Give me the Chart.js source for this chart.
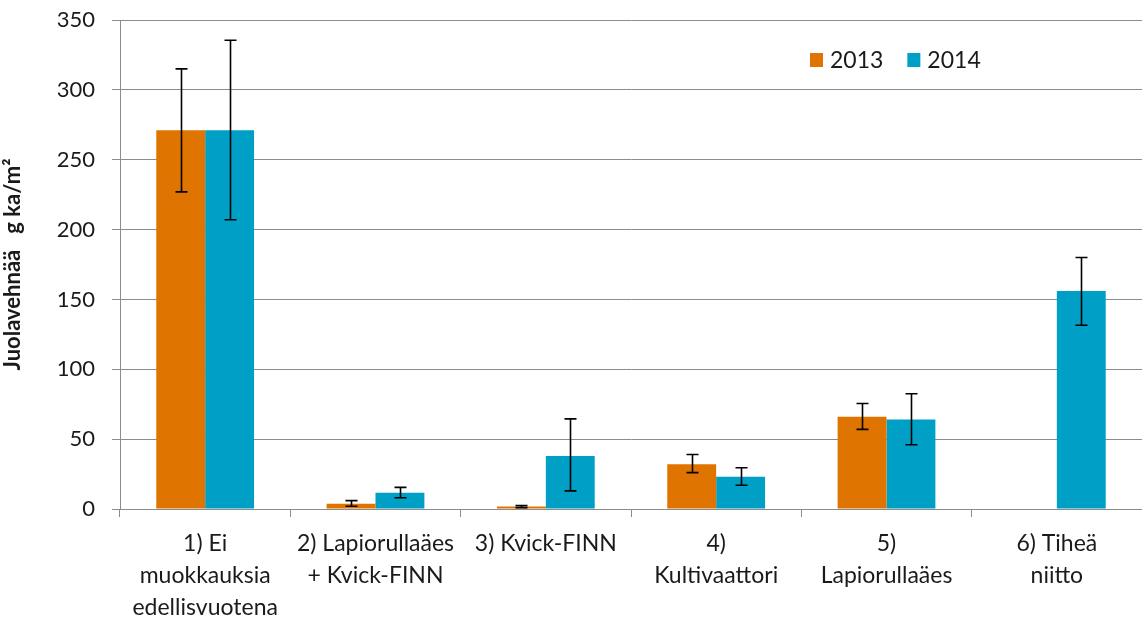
<!DOCTYPE html>
<html>
<head>
<meta charset="utf-8">
<script src="https://cdn.jsdelivr.net/npm/chart.js@4/dist/chart.umd.min.js"></script>
<style>
  html, body { margin: 0; padding: 0; background: #fff; }
  #wrap { width: 1142px; height: 620px; }
</style>
</head>
<body>
<div id="wrap"><canvas id="juola_chart"></canvas></div>
<script>
const categories = [
  ["1) Ei", "muokkauksia", "edellisvuotena"],
  ["2) Lapiorullaäes", "+ Kvick-FINN"],
  ["3) Kvick-FINN"],
  ["4)", "Kultivaattori"],
  ["5)", "Lapiorullaäes"],
  ["6) Tiheä", "niitto"]
];
const seriesLabels = ["2013", "2014"];
const values2013 = [271, 3.7, 1.8, 32, 66, null];
const values2014 = [271, 11.6, 38, 23, 64, 156];
const low2013 = [227, 2, 1, 26, 57, null];
const high2013 = [315, 6, 2.5, 39, 75.5, null];
const low2014 = [207, 8, 13, 17, 46, 131.5];
const high2014 = [335.5, 15.5, 64.5, 29.5, 82.5, 180];
const yTicks = [0, 50, 100, 150, 200, 250, 300, 350];

const orange = "#E07400";
const blue = "#00A0C6";
const gridColor = "#8C8C8C";
const textColor = "#1a1a1a";
const fontFamily = "Lato, 'Open Sans', sans-serif";

// draws whiskers for each bar from the low/high arrays
const errorBars = {
  id: "errorBars",
  afterDatasetsDraw(chart) {
    const ctx = chart.ctx;
    const y = chart.scales.y;
    const ranges = [[low2013, high2013], [low2014, high2014]];
    ctx.save();
    ctx.strokeStyle = "#000";
    ctx.lineWidth = 1.6;
    ranges.forEach(([low, high], i) => {
      chart.getDatasetMeta(i).data.forEach((bar, j) => {
        if (low[j] == null) return;
        const x = Math.round(bar.x) + 0.5;
        const yl = y.getPixelForValue(low[j]);
        const yh = y.getPixelForValue(high[j]);
        ctx.beginPath();
        ctx.moveTo(x, yl); ctx.lineTo(x, yh);
        ctx.moveTo(x - 6, yl); ctx.lineTo(x + 6, yl);
        ctx.moveTo(x - 6, yh); ctx.lineTo(x + 6, yh);
        ctx.stroke();
      });
    });
    ctx.restore();
  }
};

// legend drawn inside the plot, top right
const innerLegend = {
  id: "innerLegend",
  afterDraw(chart) {
    const ctx = chart.ctx;
    ctx.save();
    ctx.font = "23px " + fontFamily;
    ctx.textBaseline = "middle";
    let x = 810;
    const yMid = 60;
    chart.data.datasets.forEach(ds => {
      ctx.fillStyle = ds.backgroundColor;
      ctx.fillRect(x, yMid - 7, 13, 14);
      ctx.fillStyle = textColor;
      ctx.fillText(ds.label, x + 20, yMid + 1);
      x += 20 + ctx.measureText(ds.label).width + 24;
    });
    ctx.restore();
  }
};

new Chart(document.getElementById("juola_chart").getContext("2d"), {
  type: "bar",
  data: {
    labels: categories,
    datasets: [
      { label: seriesLabels[0], data: values2013, backgroundColor: orange },
      { label: seriesLabels[1], data: values2014, backgroundColor: blue }
    ]
  },
  options: {
    responsive: true,
    maintainAspectRatio: false,
    animation: false,
    layout: { padding: { top: 20, right: 0, left: 0, bottom: 0 } },
    datasets: { bar: { categoryPercentage: 0.574, barPercentage: 1.0 } },
    plugins: { legend: { display: false }, tooltip: { enabled: false } },
    scales: {
      x: {
        grid: { display: true, drawOnChartArea: false, drawTicks: true, tickLength: 8, color: gridColor, offset: true },
        border: { color: gridColor, width: 1 },
        ticks: {
          color: textColor, maxRotation: 0, autoSkip: false, padding: 11,
          font: { family: fontFamily, size: 23, lineHeight: 1.39 }
        },
        afterFit: s => { s.height = 111; }
      },
      y: {
        min: 0, max: 350,
        afterBuildTicks: s => { s.ticks = yTicks.map(v => ({ value: v })); },
        grid: { color: gridColor, tickLength: 8, lineWidth: 1 },
        border: { color: gridColor, width: 1 },
        ticks: { color: textColor, padding: 17, font: { family: fontFamily, size: 22 } },
        title: {
          display: true,
          text: "Juolavehnää   g ka/m²",
          color: textColor,
          padding: { top: 0, bottom: 4 },
          font: { family: fontFamily, size: 22, weight: "bold" }
        },
        afterFit: s => { s.width = 120; s.paddingTop = 0; s.paddingBottom = 0; }
      }
    }
  },
  plugins: [errorBars, innerLegend]
});
</script>
</body>
</html>
